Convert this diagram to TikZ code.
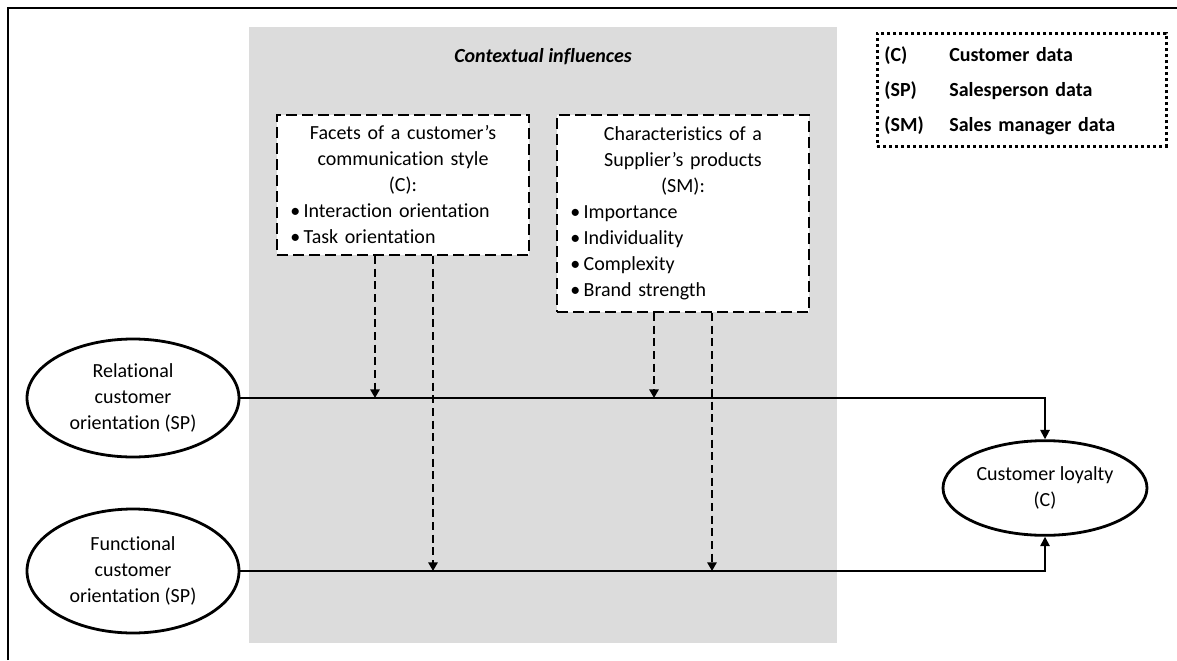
\documentclass[tikz,border=0pt]{standalone}
\usepackage{fontspec}
\setmainfont{Carlito}[RawFeature={-liga}]
\usetikzlibrary{arrows.meta,shapes.geometric}
\definecolor{ctxgray}{RGB}{220,220,220}
\tikzset{
  frameline/.style={line width=1.3pt},
  dbox/.style={draw, fill=white, line width=1.5pt, dash pattern=on 8pt off 4pt, inner xsep=10pt, inner ysep=4pt, text width=169pt, minimum height=105pt, anchor=north, font=\fontsize{15}{19.5}\selectfont},
  construct/.style={draw, ellipse, line width=2.1pt, inner sep=0pt, align=center, font=\fontsize{15}{19.5}\selectfont},
  conn/.style={line width=1.3pt, -{Triangle[length=7pt,width=7pt]}},
  darr/.style={line width=1.5pt, dash pattern=on 6pt off 3.5pt, -{Triangle[length=6.5pt,width=7pt]}},
  legendbox/.style={draw, line width=2pt, dash pattern=on 2.2pt off 2.3pt, anchor=north west, inner xsep=5.25pt, inner ysep=0pt, text width=206.25pt, minimum height=84.75pt, font=\bfseries\fontsize{15}{19.5}\selectfont},
}
\begin{document}
\begin{tikzpicture}[x=0.75pt,y=-0.75pt]
\useasboundingbox (0,0) rectangle (1177,660);
% frame
\draw[frameline] (8,660) -- (8,8) -- (1177,8);
% contextual influences background
\fill[ctxgray] (249,27) rectangle (837,643);
\node[font=\bfseries\itshape\fontsize{15}{19.5}\selectfont] (ctx) at (543,57) {Contextual influences};
% moderator boxes
\node[dbox] (facets) at (403,114) {\centering Facets of a customer’s\\communication style\\(C):\par
\raggedright\noindent\textbullet\,Interaction orientation\\\textbullet\,Task orientation};
\node[dbox, minimum height=147.75pt] (chars) at (683,114) {\centering Characteristics of a\\Supplier’s products\\(SM):\par
\raggedright\noindent\textbullet\,Importance\\\textbullet\,Individuality\\\textbullet\,Complexity\\\textbullet\,Brand strength};
% legend
\node[legendbox] (legend) at (876,32) {\renewcommand{\arraystretch}{1.346}\begin{tabular}{@{}p{48.75pt}@{}l@{}}
(C) & Customer data\\
(SP) & Salesperson data\\
(SM) & Sales manager data
\end{tabular}};
% constructs
\node[construct, minimum width=159pt, minimum height=88.5pt] (rel) at (133,398) {Relational\\customer\\orientation (SP)};
\node[construct, minimum width=159pt, minimum height=93pt] (func) at (133,571) {Functional\\customer\\orientation (SP)};
\node[construct, minimum width=153pt, minimum height=71pt] (loyal) at (1045,488) {Customer loyalty\\(C)};
% main paths
\draw[conn] (rel.east) -- (rel.east -| loyal.north) -- (loyal.north);
\draw[conn] (func.east) -- (func.east -| loyal.south) -- (loyal.south);
% moderating arrows
\coordinate (m1) at (375,398);
\coordinate (m2) at (433,571);
\coordinate (m3) at (654,398);
\coordinate (m4) at (712,571);
\draw[darr] (facets.south -| m1) -- (m1);
\draw[darr] (facets.south -| m2) -- (m2);
\draw[darr] (chars.south -| m3) -- (m3);
\draw[darr] (chars.south -| m4) -- (m4);
\end{tikzpicture}
\end{document}
